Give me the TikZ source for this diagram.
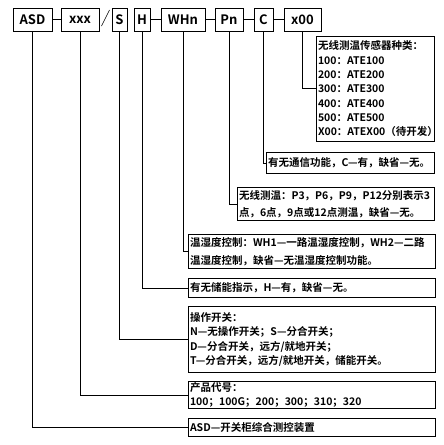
\documentclass[tikz,border=0pt]{standalone}
\usepackage{fontspec}
\setmainfont{Noto Sans CJK SC}[BoldFont={Noto Sans CJK SC Bold}]
\usetikzlibrary{positioning}

\begin{document}
\begin{tikzpicture}[
		x=1pt, y=-1pt,
		line width=1pt,
		code/.style={draw, minimum height=23pt, inner sep=0pt, font=\bfseries\fontsize{13}{13}\selectfont},
		note/.style={draw, anchor=north west, align=left, inner xsep=1.5pt, inner ysep=0pt, font=\bfseries\fontsize{10.5}{14.3}\selectfont},
		wide/.style={note, font=\bfseries\fontsize{10.5}{17.5}\selectfont},
	]
		\useasboundingbox (0,0) rectangle (444,445);

		% code row
		\node (asd) at (32.5,19.5) [code, minimum width=39pt] {ASD};
		\node (xxx) [code, minimum width=38pt, right=8pt of asd] {xxx};
		\node (s) [code, minimum width=15pt, right=12pt of xxx] {S};
		\node (h) [code, minimum width=16pt, right=6pt of s] {H};
		\node (whn) [code, minimum width=44pt, right=10pt of h] {WHn};
		\node (pn) [code, minimum width=28pt, right=9pt of whn] {Pn};
		\node (c) [code, minimum width=19pt, right=10pt of pn] {C};
		\node (x00) [code, minimum width=37pt, right=10pt of c] {x00};

		\draw (asd) -- (xxx);
		\draw (h) -- (whn);
		\draw (whn) -- (pn);
		\draw (pn) -- (c);
		\draw (c) -- (x00);
		\draw[line width=0.6pt] ([xshift=2pt,yshift=-6.5pt]xxx.east) -- ([xshift=-2pt,yshift=9.5pt]s.west);

		% explanations
		\node (sensor) at (316,35.5) [note, text width=115pt, minimum height=105.5pt] {无线测温传感器种类：\\100：ATE100\\200：ATE200\\300：ATE300\\400：ATE400\\500：ATE500\\X00：ATEX00（待开发）};
		\node (comm) at (266,152) [note, text width=165pt, minimum height=21pt] {有无通信功能，C—有，缺省—无。};
		\node (point) at (237,187) [wide, text width=194pt, minimum height=33pt] {无线测温：P3，P6，P9，P12分别表示3\\点，6点，9点或12点测温，缺省—无。};
		\node (th) at (188,234) [wide, text width=244pt, minimum height=34pt] {温湿度控制：WH1—一路温湿度控制，WH2—二路\\温湿度控制，缺省—无温湿度控制功能。};
		\node (store) at (188,278) [note, text width=244pt, minimum height=19pt] {有无储能指示，H—有，缺省—无。};
		\node (switch) at (188,306) [note, text width=244pt, minimum height=66pt] {操作开关：\\N—无操作开关；S—分合开关；\\D—分合开关，远方/就地开关；\\T—分合开关，远方/就地开关，储能开关。};
		\node (prod) at (188,381) [note, text width=244pt, minimum height=27pt] {产品代号：\\100；100G；200；300；310；320};
		\node (dev) at (188,418) [note, text width=244pt, minimum height=18pt] {ASD—开关柜综合测控装置};

		\draw (x00.south) |- (sensor.west);
		\draw (c.south) |- (comm.west);
		\draw (pn.south) |- (point.west);
		\draw (whn.south) |- (th.west);
		\draw (h.south) |- (store.west);
		\draw (s.south) |- (switch.west);
		\draw (xxx.south) |- (prod.west);
		\draw (asd.south) |- (dev.west);
	\end{tikzpicture}
\end{document}
